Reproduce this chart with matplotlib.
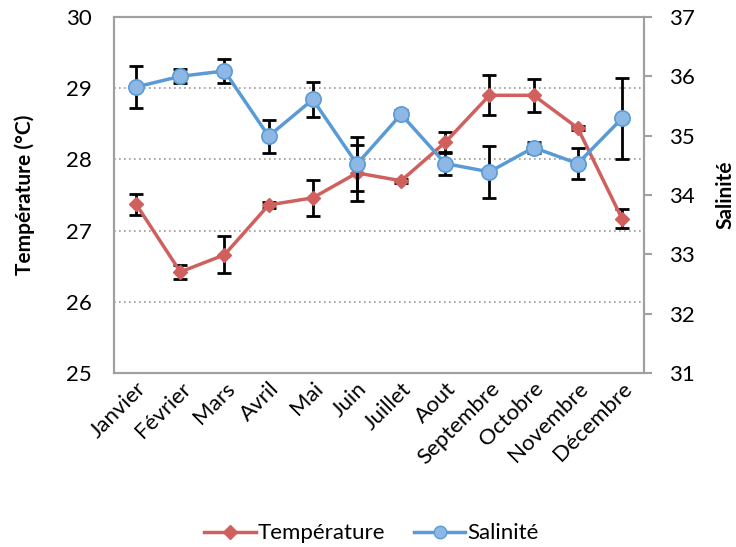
import matplotlib
matplotlib.use("Agg")
import matplotlib.pyplot as plt
from matplotlib.lines import Line2D

MONTHS = ["Janvier", "Février", "Mars", "Avril", "Mai", "Juin", "Juillet",
          "Aout", "Septembre", "Octobre", "Novembre", "Décembre"]
TEMP = [27.37, 26.42, 26.66, 27.36, 27.46, 27.81, 27.70, 28.24, 28.90, 28.90, 28.44, 27.17]
TEMP_ERR = [0.15, 0.10, 0.26, 0.04, 0.25, 0.39, 0.03, 0.15, 0.28, 0.23, 0.03, 0.13]
SAL = [35.82, 36.00, 36.09, 34.99, 35.61, 34.52, 35.36, 34.53, 34.39, 34.80, 34.53, 35.29]
SAL_ERR = [0.36, 0.12, 0.21, 0.28, 0.30, 0.46, 0.07, 0.19, 0.44, 0.10, 0.26, 0.68]

RED = "#D0605E"
BLUE = "#5B9BD5"
BLUE_FILL = "#8DB8E6"
GREY = "#A0A0A0"

plt.rcParams["font.family"] = ["Lato", "DejaVu Sans"]

fig = plt.figure(figsize=(7.36, 5.47), dpi=100)
ax = fig.add_axes([0.155, 0.318, 0.720, 0.651])
ax2 = ax.twinx()

xs = list(range(len(MONTHS)))

ax.errorbar(xs, TEMP, yerr=TEMP_ERR, fmt="none", ecolor="black", elinewidth=2, capsize=5, capthick=2, zorder=3)
ax.plot(xs, TEMP, color=RED, linewidth=2.5, marker="D", markersize=7.5, zorder=4)

ax2.errorbar(xs, SAL, yerr=SAL_ERR, fmt="none", ecolor="black", elinewidth=2, capsize=5, capthick=2, zorder=3)
ax2.plot(xs, SAL, color=BLUE, linewidth=2.5, marker="o", markersize=11,
         markerfacecolor=BLUE_FILL, markeredgecolor=BLUE, markeredgewidth=1.2, zorder=4)

ax.set_xlim(-0.5, len(MONTHS) - 0.5)
ax.set_ylim(25, 30)
ax2.set_ylim(31, 37)
ax.set_yticks([25, 26, 27, 28, 29, 30])
ax2.set_yticks([31, 32, 33, 34, 35, 36, 37])
ax.set_xticks(xs)
ax.set_xticklabels(MONTHS, rotation=45, ha="right", rotation_mode="anchor")

for y in [26, 27, 28, 29]:
    ax.axhline(y, color="#999999", linestyle=(0, (1, 2)), linewidth=1.2, zorder=1)

for a in (ax, ax2):
    for s in a.spines.values():
        s.set_color(GREY)
        s.set_linewidth(1.5)

ax.tick_params(axis="y", length=0, labelsize=16, pad=16)
ax.tick_params(axis="x", length=0, labelsize=16, pad=4)
ax2.tick_params(axis="y", length=6, width=1.5, color=GREY, labelsize=16, pad=12)

ax.set_ylabel("Température (°C)", fontsize=15, fontweight="bold", labelpad=22)
ax2.set_ylabel("Salinité", fontsize=15, fontweight="bold", labelpad=15)

handles = [
    Line2D([], [], color=RED, linewidth=2.5, marker="D", markersize=7),
    Line2D([], [], color=BLUE, linewidth=2.5, marker="o", markersize=9,
           markerfacecolor=BLUE_FILL, markeredgecolor=BLUE),
]
fig.legend(handles, ["Température", "Salinité"], loc="center", bbox_to_anchor=(0.505, 0.025),
           ncol=2, frameon=False, fontsize=16, handlelength=2.3, columnspacing=1.3, handletextpad=0.1)

fig.savefig("out.png", dpi=100)
